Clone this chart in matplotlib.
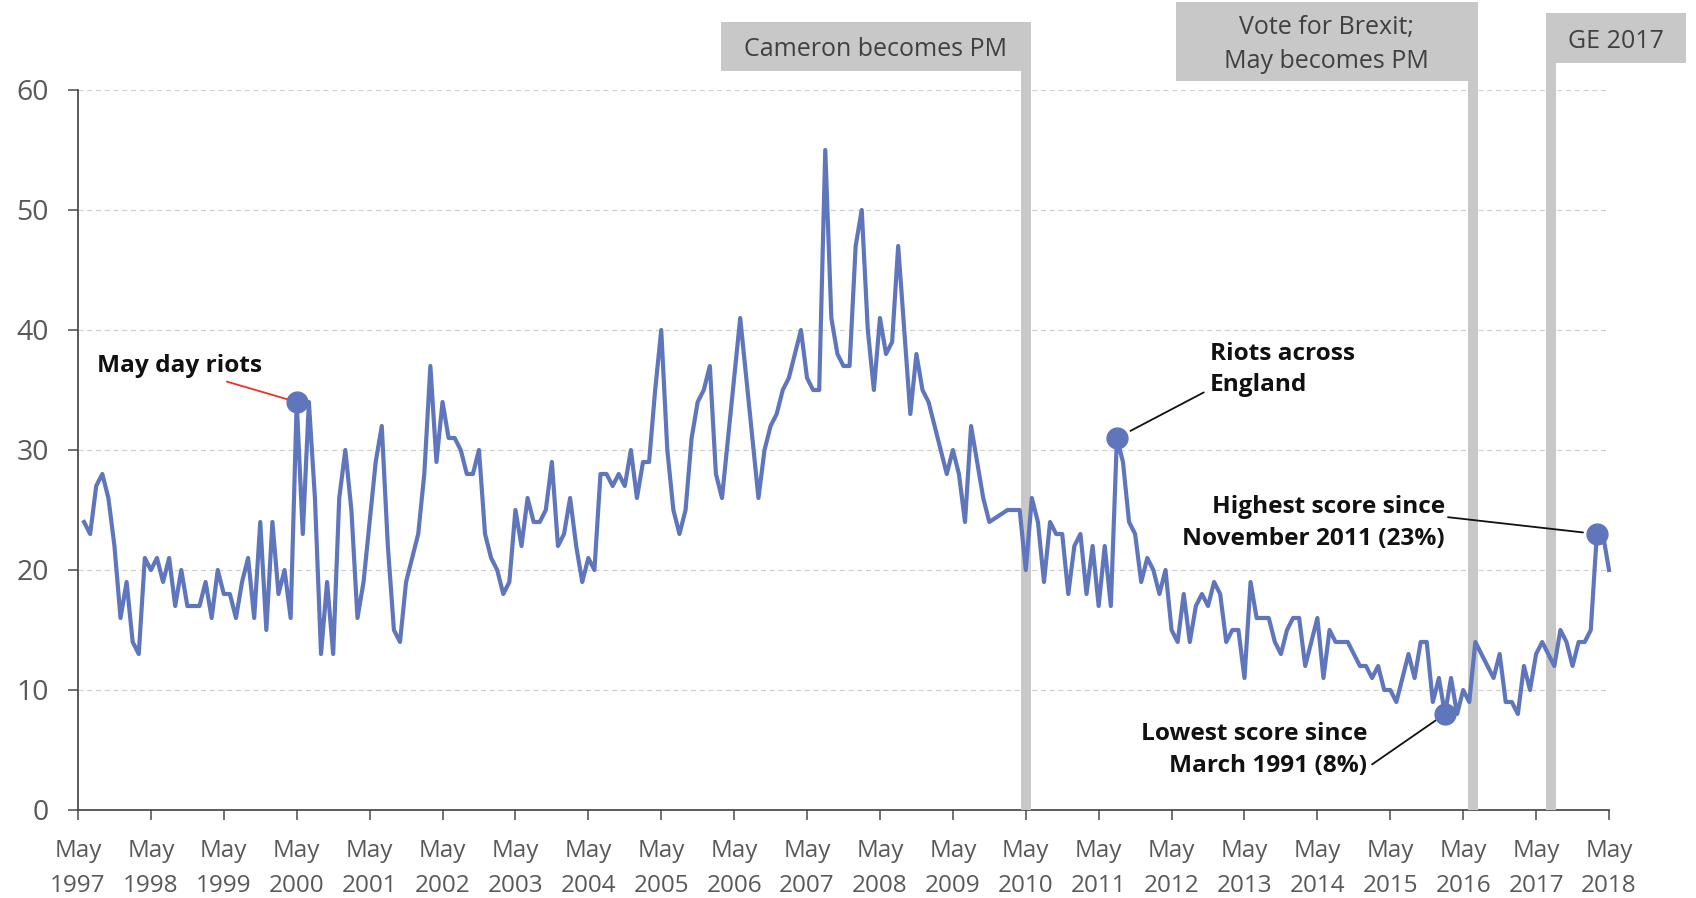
import matplotlib
matplotlib.use('Agg')
import matplotlib.pyplot as plt
from matplotlib.patches import Rectangle
import numpy as np

plt.rcParams['font.family'] = ['Open Sans', 'DejaVu Sans']

# ---------------- data ----------------
# Monthly "crime / law & order" issue share (%), first survey June 1997; None = no survey
crime_pct = [
    24, 23, 27, 28, 26, 22, 16, 19, 14, 13, 21, 20,          # Jun 1997 - May 1998
    21, 19, 21, 17, 20, 17, 17, 17, 19, 16, 20, 18,
    18, 16, 19, 21, 16, 24, 15, 24, 18, 20, 16, 34,
    23, 34, 26, 13, 19, 13, 26, 30, 25, 16, 19, None,
    29, 32, 22, 15, 14, 19, 21, 23, 28, 37, 29, 34,
    31, 31, 30, 28, 28, 30, 23, 21, 20, 18, 19, 25,
    22, 26, 24, 24, 25, 29, 22, 23, 26, 22, 19, 21,
    20, 28, 28, 27, 28, 27, 30, 26, 29, 29, 35, 40,
    30, 25, 23, 25, 31, 34, 35, 37, 28, 26, 31, 36,
    41, 36, 31, 26, 30, 32, 33, 35, 36, 38, 40, 36,
    35, 35, 55, 41, 38, 37, 37, 47, 50, 40, 35, 41,
    38, 39, 47, 40, 33, 38, 35, 34, 32, 30, 28, 30,
    28, 24, 32, 29, 26, 24, None, None, 25, 25, 25, 20,
    26, 24, 19, 24, 23, 23, 18, 22, 23, 18, 22, 17,
    22, 17, 31, 29, 24, 23, 19, 21, 20, 18, 20, 15,
    14, 18, 14, 17, 18, 17, 19, 18, 14, 15, 15, 11,
    19, 16, 16, 16, 14, 13, 15, 16, 16, 12, None, 16,
    11, 15, 14, 14, 14, 13, 12, 12, 11, 12, 10, 10,
    9, None, 13, 11, 14, 14, 9, 11, 8, 11, 8, 10,
    9, 14, 13, 12, 11, 13, 9, 9, 8, 12, 10, 13,
    14, 13, 12, 15, 14, 12, 14, 14, 15, 23, 23, 20,          # Jun 2017 - May 2018
]
axis_start = (1997, 5)      # May 1997
first_survey = (1997, 6)

tick_years = list(range(1997, 2019))
tick_labels = [f"May\n{y}" for y in tick_years]
y_ticks = [0, 10, 20, 30, 40, 50, 60]

# highlighted surveys (year, month)
highlight_months = [(2000, 5), (2011, 8), (2016, 2), (2018, 3)]

# events (year, month, day) and labels
event_dates = [(2010, 5, 1), (2016, 6, 19), (2017, 7, 16)]
event_labels = ["Cameron becomes PM", "Vote for Brexit;\nMay becomes PM", "GE 2017"]

annot_texts = ["May day riots", "Riots across\nEngland",
               "Lowest score since\nMarch 1991 (8%)", "Highest score since\nNovember 2011 (23%)"]


def month_offset(y, m, d=1):
    return (y - axis_start[0]) * 12 + (m - axis_start[1]) + (d - 1) / 30.0


# ---------------- figure ----------------
W, H = 1696, 898
fig = plt.figure(figsize=(W / 100, H / 100), dpi=100)
ax_left, ax_right, ax_top, ax_bot = 78, 1609, 90, 810
ax = fig.add_axes([ax_left / W, 1 - ax_bot / H, (ax_right - ax_left) / W, (ax_bot - ax_top) / H])

line_col = '#5f76bc'
off0 = month_offset(*first_survey)
xs = np.array([off0 + i for i, v in enumerate(crime_pct) if v is not None])
ys = np.array([v for v in crime_pct if v is not None], dtype=float)
ax.plot(xs, ys, color=line_col, lw=3.0, zorder=4, solid_joinstyle='round', clip_on=False)

# markers
val_by_off = {off0 + i: v for i, v in enumerate(crime_pct) if v is not None}
hx = [month_offset(y, m) for y, m in highlight_months]
hy = [val_by_off[x] for x in hx]
ax.plot(hx, hy, 'o', color=line_col, ms=15, zorder=5, clip_on=False)

ax.set_xlim(0, 252)
ax.set_ylim(0, 60)
ax.set_yticks(y_ticks)
ax.set_xticks([month_offset(y, 5) for y in tick_years])
ax.set_xticklabels(tick_labels)
ax.tick_params(axis='x', labelsize=17.5, colors='#595959', length=7, width=1.2, pad=14)
ax.tick_params(axis='y', labelsize=20.5, colors='#595959', length=7, width=1.2, pad=14)
for lab in ax.get_xticklabels():
    lab.set_linespacing(1.6)
ax.yaxis.grid(True, linestyle=(0, (4, 3)), color='#d0d0d0', lw=0.9)
ax.set_axisbelow(True)
for s in ['top', 'right']:
    ax.spines[s].set_visible(False)
for s in ['left', 'bottom']:
    ax.spines[s].set_color('#404040')
    ax.spines[s].set_linewidth(1.2)

# ---------------- event bars and boxes (pixel layout) ----------------
bar_col = '#c8c8c8'
# (box width, box top, box bottom, anchor: 'right' = bar at right edge, 'left')
box_layout = [(310, 22, 71, 'right'), (302, 2, 81, 'right'), (140, 13, 63, 'left')]
bar_w = 10
for (yy, mm, dd), lab, (bw, btop, bbot, anchor) in zip(event_dates, event_labels, box_layout):
    xe = month_offset(yy, mm, dd)
    xpix = ax.transData.transform((xe, 0))[0]
    ax.add_patch(Rectangle((xpix - bar_w / 2, H - ax_bot), bar_w, ax_bot - bbot,
                           transform=None, facecolor=bar_col, edgecolor='none',
                           clip_on=False, zorder=3))
    if anchor == 'right':
        x0 = xpix + bar_w / 2 - bw
    else:
        x0 = xpix - bar_w / 2
    fig.patches.append(Rectangle((x0, H - bbot), bw, bbot - btop, transform=None,
                                 facecolor=bar_col, edgecolor='none', zorder=1))
    fig.text((x0 + bw / 2) / W, 1 - ((btop + bbot) / 2 + 3) / H, lab, ha='center', va='center',
             fontsize=18, color='#404040', linespacing=1.5, zorder=2)

# ---------------- annotations ----------------
bold_kw = dict(fontsize=17.6, fontweight='bold', color='#111111', linespacing=1.42, zorder=6)
ax.text(3.1, 37.0, annot_texts[0], ha='left', va='center', **bold_kw)
ax.text(186.3, 36.7, annot_texts[1], ha='left', va='center', multialignment='left', **bold_kw)
ax.text(212.2, 5.0, annot_texts[2], ha='right', va='center', multialignment='right', **bold_kw)
ax.text(225.0, 23.9, annot_texts[3], ha='right', va='center', multialignment='right', **bold_kw)

leader_starts = [(24.5, 35.7), (185.3, 34.8), (213.0, 3.8), (225.5, 24.4)]
leader_cols = ['#e8342a', '#111111', '#111111', '#111111']
leader_shrink = [6, 11, 8, 10]
for (lx, ly), (mx, my), c, sh in zip(leader_starts, zip(hx, hy), leader_cols, leader_shrink):
    ax.annotate('', xy=(mx, my), xytext=(lx, ly),
                arrowprops=dict(arrowstyle='-', color=c, lw=1.3, shrinkA=0, shrinkB=sh),
                annotation_clip=False, zorder=3)

fig.savefig('out.png', dpi=100)
